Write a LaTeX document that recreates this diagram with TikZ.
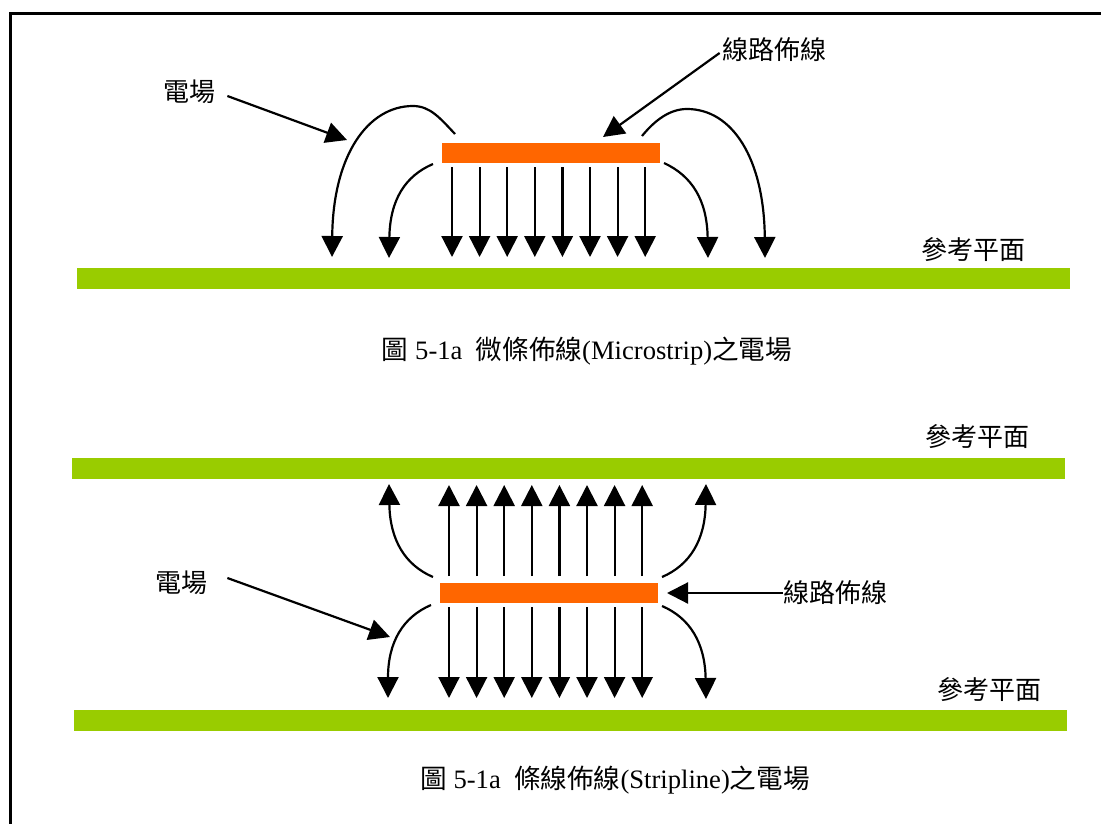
\documentclass[tikz,border=0pt]{standalone}
\usepackage{fontspec}
\setmainfont{Liberation Serif}
\newfontfamily\cjk{Noto Sans CJK TC}
\usepackage{xcolor}
\usetikzlibrary{arrows.meta,calc}
\definecolor{traceorange}{HTML}{FF6600}
\definecolor{planegreen}{HTML}{99CC00}

\begin{document}
\begin{tikzpicture}[
  x=0.5pt,y=-0.5pt,
  >={Triangle[length=10.5pt,width=10.5pt]},
  lbl/.style={font=\fontsize{13}{15}\selectfont\cjk,inner sep=2pt},
  captext/.style={font=\fontsize{13.3}{15}\selectfont,inner sep=2pt},
  trace/.style={fill=traceorange,minimum width=109pt,minimum height=10pt,inner sep=0pt},
  plane/.style={fill=planegreen,minimum height=10.5pt,inner sep=0pt},
  field/.style={->,line width=1.1pt},
  pointer/.style={->,line width=1.1pt},
  frame/.style={line width=1.5pt},
]
  \useasboundingbox (0,0) rectangle (1101,824);
  \draw[frame] (1101,13.5) -- (10,13.5) -- (10,824);

  % microstrip
  \node[trace] (ms) at (551,153) {};
  \node[plane,minimum width=496.5pt] (gnd1) at (573.5,278.5) {};
  \foreach \i in {0,...,7}
    \draw[field] ({452+27.6*\i},167) -- ({452+27.6*\i},257);
  \draw[field] (455,134) .. controls (440,118) and (430,106) .. (413,106)
    .. controls (368,106) and (333,155) .. (332,257);
  \draw[field] (433,164) .. controls (405,176) and (390,200) .. (389,258);
  \draw[field] (664,163) .. controls (692,176) and (707,200) .. (708,258);
  \draw[field] (642,136) .. controls (655,120) and (670,109) .. (687,109)
    .. controls (732,109) and (764,158) .. (765,258);

  \node[lbl] (ef1) at (189,92) {電場};
  \coordinate (ef1tip) at (347,140);
  \draw[pointer] (ef1.east) ++(4pt,-2pt) -- (ef1tip);
  \node[lbl] (wl1) at (774,50) {線路佈線};
  \coordinate (wl1tip) at (603,137);
  \draw[pointer] (wl1.west) ++(1pt,-1.5pt) -- (wl1tip);
  \node[lbl] (rp1) at (973,250) {參考平面};
  \node[captext] (cap1) at (587,351)
    {{\cjk 圖} 5-1a\ \ {\cjk 微條佈線}(Microstrip){\cjk 之電場}};

  % stripline
  \node[plane,minimum width=496.5pt] (gnd2) at (568.5,468.5) {};
  \node[trace] (sl) at (549,593) {};
  \node[plane,minimum width=496.5pt] (gnd3) at (570.5,720) {};
  \foreach \i in {0,...,7} {
    \draw[field] ({449+27.6*\i},576) -- ({449+27.6*\i},485);
    \draw[field] ({449+27.6*\i},607) -- ({449+27.6*\i},698);
  }
  \draw[field] (433,577) .. controls (405,565) and (390,540) .. (389,484);
  \draw[field] (662,577) .. controls (690,565) and (705,540) .. (706,484);
  \draw[field] (431,605) .. controls (403,617) and (388,642) .. (388,698);
  \draw[field] (662,606) .. controls (690,618) and (705,643) .. (706,699);

  \node[lbl] (ef2) at (181,583) {電場};
  \coordinate (ef2tip) at (390,637);
  \draw[pointer] (ef2.east) ++(8pt,2.5pt) -- (ef2tip);
  \node[lbl] (wl2) at (835,593) {線路佈線};
  \coordinate (wl2tip) at (667,593);
  \draw[pointer] (wl2.west) ++(2pt,0) -- (wl2tip);
  \node[lbl] (rp2) at (977,437) {參考平面};
  \node[lbl] (rp3) at (989,690) {參考平面};
  \node[captext] (cap2) at (615,780)
    {{\cjk 圖} 5-1a\ \ {\cjk 條線佈線}(Stripline){\cjk 之電場}};
\end{tikzpicture}
\end{document}
